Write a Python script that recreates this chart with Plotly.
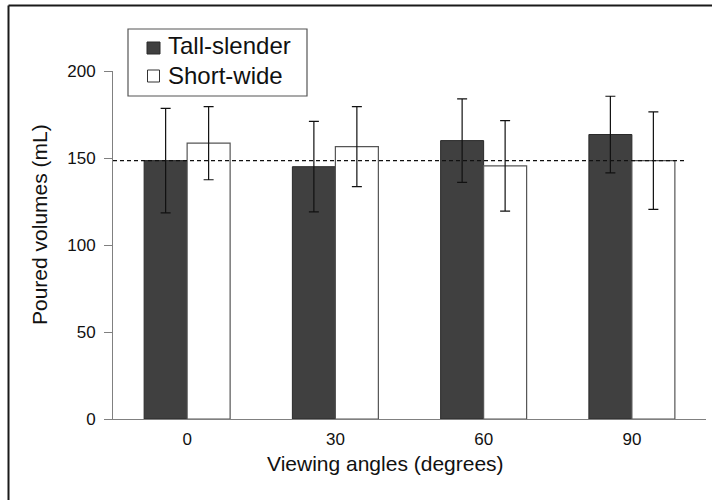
import plotly.graph_objects as go

categories = ["0", "30", "60", "90"]
tall_slender = [148.5, 145, 160, 163.5]
tall_slender_err = [30, 26, 24, 22]
short_wide = [158.5, 156.5, 145.5, 148.5]
short_wide_err = [21, 23, 26, 28]
reference_volume = 148.5
y_ticks = [0, 50, 100, 150, 200]
series_names = ["Tall-slender", "Short-wide"]

FONT = "Arial"
DARK = "#404040"
L, R, T, B = 113, 6, 71, 81
PW, PH = 712 - L - R, 500 - T - B


def px(x):
    return (x - L) / PW


def py(y):
    return (500 - B - y) / PH


fig = go.Figure()
fig.add_trace(go.Bar(
    x=categories, y=tall_slender, name=series_names[0], showlegend=False,
    marker=dict(color=DARK, line=dict(color="#2a2a2a", width=1)),
    error_y=dict(type="data", array=tall_slender_err, color="#111111", thickness=1.2, width=5),
))
fig.add_trace(go.Bar(
    x=categories, y=short_wide, name=series_names[1], showlegend=False,
    marker=dict(color="#ffffff", line=dict(color="#555555", width=1.2)),
    error_y=dict(type="data", array=short_wide_err, color="#111111", thickness=1.2, width=5),
))

# reference dashed line
fig.add_shape(type="line", xref="paper", yref="y", x0=0, x1=px(685),
              y0=reference_volume, y1=reference_volume,
              line=dict(color="#111111", width=1.2, dash="4px,3px"))

# cropped outer frame (top and left edges)
fig.add_shape(type="line", xref="paper", yref="paper",
              x0=px(8.5), x1=px(715), y0=py(5.5), y1=py(5.5),
              line=dict(color="#1a1a1a", width=2))
fig.add_shape(type="line", xref="paper", yref="paper",
              x0=px(8.5), x1=px(8.5), y0=py(5.5), y1=py(505),
              line=dict(color="#1a1a1a", width=2))

# legend (drawn as box, swatches and labels)
fig.add_shape(type="rect", xref="paper", yref="paper",
              x0=px(128), x1=px(307), y0=py(29), y1=py(96),
              line=dict(color="#555555", width=1.2), fillcolor="white")
fig.add_shape(type="rect", xref="paper", yref="paper",
              x0=px(147), x1=px(160), y0=py(42), y1=py(54),
              line=dict(color="#2a2a2a", width=1), fillcolor=DARK)
fig.add_shape(type="rect", xref="paper", yref="paper",
              x0=px(147.5), x1=px(159.5), y0=py(70), y1=py(82),
              line=dict(color="#333333", width=1), fillcolor="white")
for name, yc in zip(series_names, [46, 75]):
    fig.add_annotation(text=name, xref="paper", yref="paper",
                       x=px(166), y=py(yc), xanchor="left", yanchor="middle",
                       showarrow=False, font=dict(size=24, family=FONT, color="#111111"))

# axis titles
fig.add_annotation(text="Viewing angles (degrees)", xref="paper", yref="paper",
                   x=px(385), y=py(463), xanchor="center", yanchor="middle",
                   showarrow=False, font=dict(size=21, family=FONT, color="#111111"))
fig.add_annotation(text="Poured volumes (mL)", xref="paper", yref="paper",
                   x=px(39), y=py(225), xanchor="center", yanchor="middle",
                   textangle=-90, showarrow=False,
                   font=dict(size=21, family=FONT, color="#111111"))

fig.update_layout(
    width=712, height=500,
    margin=dict(l=L, r=R, t=T, b=B, autoexpand=False),
    paper_bgcolor="white", plot_bgcolor="white",
    barmode="group", bargap=0.42, bargroupgap=0,
    font=dict(family=FONT, color="#111111"),
    showlegend=False,
    xaxis=dict(
        type="category", showgrid=False, zeroline=False,
        showline=True, linecolor="#808080", linewidth=1,
        ticks="", tickfont=dict(size=17), ticklabelstandoff=5,
    ),
    yaxis=dict(
        range=[0, 200], tickvals=y_ticks, showgrid=False, zeroline=False,
        showline=True, linecolor="#808080", linewidth=1,
        ticks="outside", ticklen=8, tickcolor="#808080",
        tickfont=dict(size=17), ticklabelstandoff=5,
    ),
)

fig.write_html("out.html", config={"displayModeBar": False},
               post_script="document.body.style.margin='0';document.body.style.overflow='hidden';")
